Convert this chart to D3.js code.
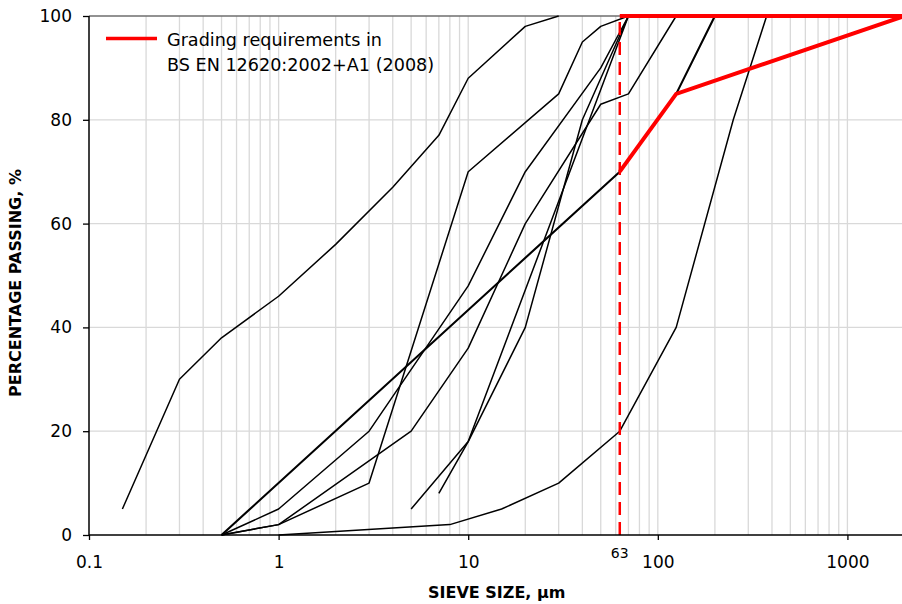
<!DOCTYPE html>
<html>
<head>
<meta charset="utf-8">
<script src="https://cdn.jsdelivr.net/npm/d3@7"></script>
<style>
  html, body { margin: 0; padding: 0; background: #fff; }
  svg { display: block; }
  text { font-family: "DejaVu Sans", Verdana, sans-serif; fill: #000; }
</style>
</head>
<body>
<svg id="chart" width="902" height="604"></svg>
<script>
// ---- data (sieve size in µm, percentage passing) ----
const sampleA = [[0.15,5],[0.3,30],[0.5,38],[1,46],[2,56],[4,67],[7,77],[10,88],[20,98],[30,100]];
const sampleB = [[0.5,0],[63,70],[125,85],[200,100]];
const sampleC = [[0.5,0],[1,5],[3,20],[10,48],[20,70],[50,90],[70,100]];
const sampleD = [[0.5,0],[1,2],[3,10],[10,70],[30,85],[40,95],[50,98],[70,100]];
const sampleE = [[0.5,0],[1,2],[5,20],[10,36],[20,60],[50,83],[70,85],[125,100]];
const sampleF = [[1,0],[8,2],[15,5],[30,10],[63,20],[125,40],[250,80],[375,100]];
const sampleG = [[7,8],[10,18],[20,40],[40,80],[70,100]];
const sampleH = [[5,5],[10,18],[70,100]];
const samples = [sampleA, sampleB, sampleC, sampleD, sampleE, sampleF, sampleG, sampleH];

const reqLower = [[63,70],[125,85],[2000,100]];
const reqUpper = [[63,100],[2000,100]];
const limitSize = 63;

const xTickValues = [0.1, 1, 10, 100, 1000];
const xTickLabels = ["0.1", "1", "10", "100", "1000"];
const yTickValues = [0, 20, 40, 60, 80, 100];
const xDomain = [0.1, 2000];
const yDomain = [0, 100];
const legendLines = ["Grading requirements in", "BS EN 12620:2002+A1 (2008)"];
const xTitle = "SIEVE SIZE, µm";
const yTitle = "PERCENTAGE PASSING, %";

(function () {
// ---- layout ----
const svg = d3.select("#chart");
const mLeft = 89, mRight = 904.5, mTop = 16, mBottom = 535;

const x = d3.scaleLog().domain(xDomain).range([mLeft, mRight]);
const y = d3.scaleLinear().domain(yDomain).range([mBottom, mTop]);

// minor grid values
const gridX = [];
for (let e = -1; e <= 3; e++) {
  for (let k = 1; k <= 9; k++) {
    const v = k * Math.pow(10, e);
    if (v > xDomain[0] && v <= xDomain[1]) gridX.push(v);
  }
}

svg.append("defs").append("clipPath").attr("id", "plotclip")
  .append("rect").attr("x", mLeft).attr("y", mTop - 3).attr("width", mRight - mLeft + 5).attr("height", mBottom - mTop + 6);

const grid = svg.append("g");
grid.selectAll("line.gx").data(gridX).join("line")
  .attr("x1", d => x(d)).attr("x2", d => x(d))
  .attr("y1", mTop).attr("y2", mBottom)
  .attr("stroke", "#d9d9d9").attr("stroke-width", 1.3);
grid.selectAll("line.gy").data(yTickValues.filter(v => v > 0 && v < 100)).join("line")
  .attr("x1", mLeft).attr("x2", mRight)
  .attr("y1", d => y(d)).attr("y2", d => y(d))
  .attr("stroke", "#d9d9d9").attr("stroke-width", 1.3);

// top border
svg.append("line").attr("x1", mLeft).attr("x2", 902).attr("y1", y(100)).attr("y2", y(100))
  .attr("stroke", "#6e6e6e").attr("stroke-width", 1.3);

const line = d3.line().x(d => x(d[0])).y(d => y(d[1]));

const plot = svg.append("g").attr("clip-path", "url(#plotclip)");
plot.selectAll("path.sample").data(samples).join("path")
  .attr("d", line)
  .attr("fill", "none")
  .attr("stroke", "#000")
  .attr("stroke-linejoin", "round")
  .attr("stroke-width", (d, i) => i === 1 ? 2.1 : 1.5);

// red limits
plot.append("line")
  .attr("x1", x(limitSize)).attr("x2", x(limitSize))
  .attr("y1", y(0)).attr("y2", y(100))
  .attr("stroke", "#ff0000").attr("stroke-width", 2.5)
  .attr("stroke-dasharray", "13,7");
plot.selectAll("path.req").data([reqLower, reqUpper]).join("path")
  .attr("d", line)
  .attr("fill", "none")
  .attr("stroke", "#ff0000")
  .attr("stroke-width", 4)
  .attr("stroke-linejoin", "miter");

// axes
const xAxis = d3.axisBottom(x).tickValues(xTickValues)
  .tickFormat((d, i) => xTickLabels[i]).tickSize(5).tickPadding(16);
const gx = svg.append("g").attr("transform", `translate(0,${mBottom})`).call(xAxis);
gx.select(".domain").attr("stroke", "#000").attr("stroke-width", 1.5).attr("d", `M${mLeft},0H902`);
gx.selectAll(".tick line").attr("stroke", "#000").attr("stroke-width", 1.3);
gx.selectAll(".tick text").attr("font-size", 17).attr("font-family", "DejaVu Sans");

const yAxis = d3.axisLeft(y).tickValues(yTickValues).tickSize(6).tickPadding(11);
const gy = svg.append("g").attr("transform", `translate(${mLeft},0)`).call(yAxis);
gy.select(".domain").attr("stroke", "#000").attr("stroke-width", 1.5).attr("d", `M0,${mBottom}V${mTop}`);
gy.selectAll(".tick line").attr("stroke", "#000").attr("stroke-width", 1.3);
gy.selectAll(".tick text").attr("font-size", 17).attr("font-family", "DejaVu Sans");

// 63 label
svg.append("text").attr("x", x(limitSize)).attr("y", 558)
  .attr("text-anchor", "middle").attr("font-size", 14).text(String(limitSize));

// axis titles
svg.append("text").attr("x", (mLeft + mRight) / 2).attr("y", 598)
  .attr("text-anchor", "middle").attr("font-size", 16).attr("font-weight", "bold").text(xTitle);
svg.append("text").attr("transform", "translate(21,283) rotate(-90)")
  .attr("text-anchor", "middle").attr("font-size", 16).attr("font-weight", "bold").text(yTitle);

// legend
svg.append("line").attr("x1", 106).attr("x2", 157).attr("y1", 38.5).attr("y2", 38.5)
  .attr("stroke", "#ff0000").attr("stroke-width", 3.5);
svg.selectAll("text.leg").data(legendLines).join("text")
  .attr("x", 167).attr("y", (d, i) => 46 + i * 24.5)
  .attr("font-size", 17.6).text(d => d);
})();
</script>
</body>
</html>
